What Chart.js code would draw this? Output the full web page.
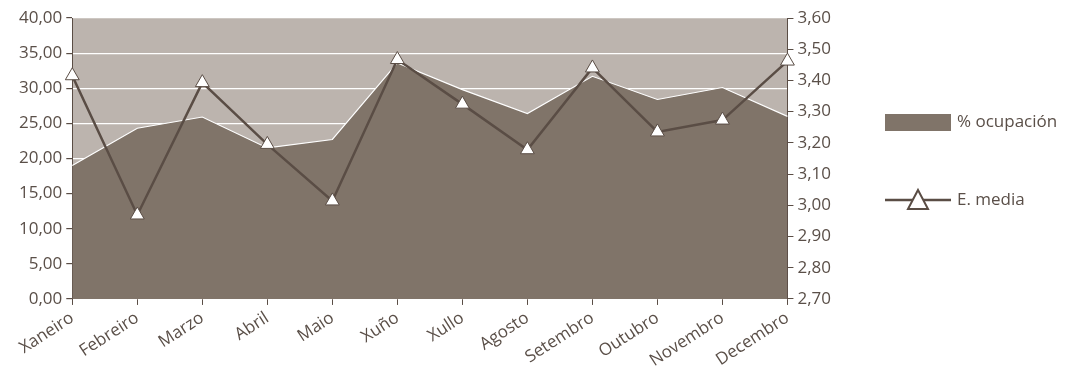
<!DOCTYPE html>
<html>
<head>
<meta charset="utf-8">
<script src="https://cdn.jsdelivr.net/npm/chart.js@4/dist/chart.umd.min.js"></script>
<style>
  html, body { margin: 0; padding: 0; background: #fff; }
  #wrap { width: 1070px; height: 374px; }
</style>
</head>
<body>
<div id="wrap"><canvas id="chart"></canvas></div>
<script>
const months = ['Xaneiro', 'Febreiro', 'Marzo', 'Abril', 'Maio', 'Xuño', 'Xullo', 'Agosto', 'Setembro', 'Outubro', 'Novembro', 'Decembro'];
const ocupacion = [19.0, 24.3, 25.9, 21.5, 22.7, 33.6, 29.8, 26.4, 31.7, 28.4, 30.1, 26.0];
const estancia = [3.415, 2.969, 3.393, 3.195, 3.014, 3.467, 3.324, 3.178, 3.440, 3.235, 3.273, 3.462];

const textColor = '#5a4f48';
const areaColor = '#807469';
const lineColor = '#5a4d45';
const fontSize = 17;
const fmt = v => v.toFixed(2).replace('.', ',');

// plot background
const plotBg = {
  id: 'plotBg',
  beforeDraw(chart) {
    const { ctx, chartArea: a } = chart;
    ctx.save();
    ctx.fillStyle = '#bcb4ae';
    ctx.fillRect(a.left, a.top, a.right - a.left, a.bottom - a.top);
    ctx.restore();
  }
};

// legend drawn at the right
const sideLegend = {
  id: 'sideLegend',
  afterDraw(chart) {
    const ctx = chart.ctx;
    const x = 885, w = 66;
    ctx.save();
    ctx.font = fontSize + 'px "Open Sans"';
    ctx.textBaseline = 'middle';
    ctx.fillStyle = areaColor;
    ctx.fillRect(x, 114, w, 17);
    ctx.fillStyle = textColor;
    ctx.fillText(chart.data.datasets[1].label, x + w + 6, 122);
    const ly = 200;
    ctx.strokeStyle = lineColor;
    ctx.lineWidth = 2.5;
    ctx.beginPath();
    ctx.moveTo(x, ly);
    ctx.lineTo(x + w, ly);
    ctx.stroke();
    const cx = x + w / 2;
    ctx.beginPath();
    ctx.moveTo(cx, ly - 10);
    ctx.lineTo(cx + 10, ly + 9);
    ctx.lineTo(cx - 10, ly + 9);
    ctx.closePath();
    ctx.fillStyle = '#fff';
    ctx.fill();
    ctx.lineWidth = 2;
    ctx.stroke();
    ctx.fillStyle = textColor;
    ctx.fillText(chart.data.datasets[0].label, x + w + 6, ly);
    ctx.restore();
  }
};

new Chart(document.getElementById('chart'), {
  type: 'line',
  data: {
    labels: months,
    datasets: [{
      label: 'E. media',
      data: estancia,
      yAxisID: 'y2',
      borderColor: lineColor,
      borderWidth: 2.5,
      pointStyle: 'triangle',
      pointRadius: 8,
      pointBackgroundColor: '#fff',
      pointBorderColor: lineColor,
      pointBorderWidth: 1,
      tension: 0,
      order: 0
    }, {
      label: '% ocupación',
      data: ocupacion,
      yAxisID: 'y',
      fill: 'origin',
      backgroundColor: areaColor,
      borderColor: '#ffffff',
      borderWidth: 1.2,
      pointRadius: 0,
      tension: 0,
      order: 1
    }]
  },
  options: {
    responsive: true,
    maintainAspectRatio: false,
    animation: false,
    layout: { padding: { left: 15, right: 235, top: 18, bottom: 0 } },
    plugins: {
      legend: { display: false },
      tooltip: { enabled: false }
    },
    scales: {
      x: {
        offset: false,
        grid: { drawOnChartArea: false, tickColor: lineColor, tickLength: 6 },
        border: { color: lineColor, width: 1 },
        ticks: {
          color: textColor,
          font: { family: 'Open Sans', size: fontSize },
          minRotation: 33,
          maxRotation: 33,
          padding: 3,
          autoSkip: false
        }
      },
      y: {
        position: 'left',
        min: 0,
        max: 40,
        grid: { color: '#ffffff', lineWidth: 1.2, tickColor: lineColor, tickLength: 6 },
        border: { color: lineColor, width: 1 },
        ticks: {
          stepSize: 5,
          color: textColor,
          font: { family: 'Open Sans', size: fontSize },
          padding: 4,
          callback: v => fmt(v)
        }
      },
      y2: {
        position: 'right',
        min: 2.7,
        max: 3.6,
        grid: { drawOnChartArea: false, tickColor: lineColor, tickLength: 6 },
        border: { color: lineColor, width: 1 },
        ticks: {
          stepSize: 0.1,
          color: textColor,
          font: { family: 'Open Sans', size: fontSize },
          padding: 4,
          callback: v => fmt(v)
        }
      }
    }
  },
  plugins: [plotBg, sideLegend]
});
</script>
</body>
</html>
